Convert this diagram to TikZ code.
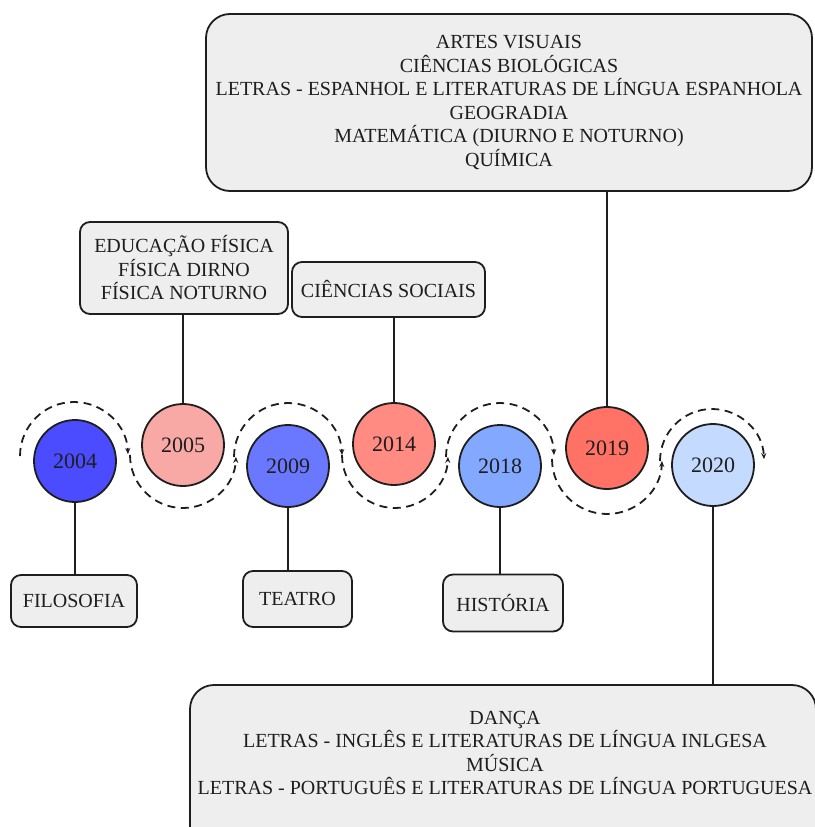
\documentclass[tikz,border=0pt]{standalone}
\usepackage{fontspec}
\setmainfont{Liberation Serif}
\usetikzlibrary{arrows.meta}
\definecolor{c04}{RGB}{75,75,255}
\definecolor{c05}{RGB}{248,169,165}
\definecolor{c09}{RGB}{106,120,255}
\definecolor{c14}{RGB}{255,139,130}
\definecolor{c18}{RGB}{130,169,255}
\definecolor{c19}{RGB}{255,114,101}
\definecolor{c20}{RGB}{197,218,255}
\definecolor{boxfill}{RGB}{238,238,238}
\definecolor{ink}{RGB}{30,30,30}
\begin{document}
\begin{tikzpicture}[x=1pt,y=-1pt,
  year/.style={circle, draw=ink, line width=1.8pt, minimum size=82pt, inner sep=0pt,
    font=\fontsize{22}{25}\selectfont, text=ink},
  prog/.style={draw=ink, line width=1.8pt, rounded corners=10pt, fill=boxfill,
    align=center, inner sep=0pt, font=\fontsize{20}{23.5}\selectfont, text=ink},
  bigprog/.style={prog, rounded corners=24pt},
  txt/.style={align=center, inner sep=0pt, font=\fontsize{20}{23.5}\selectfont, text=ink},
  link/.style={line width=1.8pt, draw=ink},
  wave/.style={line width=1.8pt, draw=ink, dash pattern=on 8pt off 5.5pt,
    -{Stealth[length=6pt,width=5pt]}}
]
\useasboundingbox (0,0) rectangle (814,827);

% circles
\node[year, fill=c04] (y04) at (75,461) {2004};
\node[year, fill=c05] (y05) at (183,445) {2005};
\node[year, fill=c09] (y09) at (288,466) {2009};
\node[year, fill=c14] (y14) at (394,444) {2014};
\node[year, fill=c18] (y18) at (500,466) {2018};
\node[year, fill=c19] (y19) at (607,448) {2019};
\node[year, fill=c20] (y20) at (713,465) {2020};

% dashed wave
\coordinate (w04) at (74,456);
\coordinate (w05) at (183,455);
\coordinate (w09) at (288,457);
\coordinate (w14) at (395,455);
\coordinate (w18) at (500,457);
\coordinate (w19) at (607,459);
\coordinate (w20) at (712,461);
\draw[wave] (w04) ++(180:54) arc[start angle=180, end angle=358, radius=54];
\draw[wave] (w05) ++(180:53) arc[start angle=180, end angle=2, radius=53];
\draw[wave] (w09) ++(180:54) arc[start angle=180, end angle=358, radius=54];
\draw[wave] (w14) ++(180:53) arc[start angle=180, end angle=2, radius=53];
\draw[wave] (w18) ++(180:54) arc[start angle=180, end angle=358, radius=54];
\draw[wave] (w19) ++(180:55) arc[start angle=180, end angle=2, radius=55];
\draw[wave] (w20) ++(180:52) arc[start angle=180, end angle=358, radius=52];

% boxes
\node[bigprog, minimum width=606pt, minimum height=177pt] (top) at (509,102.5)
  {ARTES VISUAIS\\CIÊNCIAS BIOLÓGICAS\\LETRAS - ESPANHOL E LITERATURAS DE LÍNGUA ESPANHOLA\\GEOGRADIA\\MATEMÁTICA (DIURNO E NOTURNO)\\QUÍMICA};
\node[prog, minimum width=208pt, minimum height=92pt] (edu) at (184,268)
  {EDUCAÇÃO FÍSICA\\FÍSICA DIRNO\\FÍSICA NOTURNO};
\node[prog, minimum width=193pt, minimum height=55pt] (soc) at (388.5,289.5)
  {CIÊNCIAS SOCIAIS};
\node[prog, minimum width=126pt, minimum height=52pt] (fil) at (74,601) {FILOSOFIA};
\node[prog, minimum width=109pt, minimum height=56pt] (tea) at (297.5,599) {TEATRO};
\node[prog, minimum width=120pt, minimum height=57pt] (his) at (503,603) {HISTÓRIA};
\node[bigprog, minimum width=626pt, minimum height=165pt] (bot) at (503,767.5) {};
\node[txt] (bottxt) at (505,753)
  {DANÇA\\LETRAS - INGLÊS E LITERATURAS DE LÍNGUA INLGESA\\MÚSICA\\LETRAS - PORTUGUÊS E LITERATURAS DE LÍNGUA PORTUGUESA};

% connectors
\draw[link] (y04.south) -- (y04.south |- fil.north);
\draw[link] (y05.north) -- (y05.north |- edu.south);
\draw[link] (y09.south) -- (y09.south |- tea.north);
\draw[link] (y14.north) -- (y14.north |- soc.south);
\draw[link] (y18.south) -- (y18.south |- his.north);
\draw[link] (y19.north) -- (y19.north |- top.south);
\draw[link] (y20.south) -- (y20.south |- bot.north);
\end{tikzpicture}
\end{document}
